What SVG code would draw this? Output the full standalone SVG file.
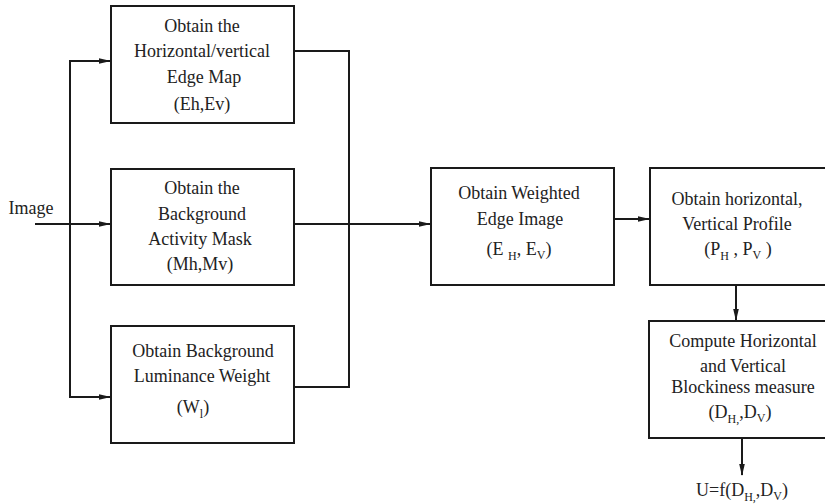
<svg xmlns="http://www.w3.org/2000/svg" width="825" height="504" viewBox="0 0 825 504">
<defs>
<marker id="ah" markerWidth="12" markerHeight="8" refX="11" refY="4" orient="auto" markerUnits="userSpaceOnUse">
<path d="M0,1.2 L12,4 L0,6.8 Z" fill="#1a1a1a"/>
</marker>
</defs>
<rect width="825" height="504" fill="#fff"/>
<g id="connectors" fill="none" stroke="#1a1a1a" stroke-width="2">
<line x1="35" y1="224" x2="110" y2="224" marker-end="url(#ah)"/>
<polyline points="70,224 70,61 110,61" marker-end="url(#ah)"/>
<polyline points="70,224 70,397 110,397" marker-end="url(#ah)"/>
<polyline points="294,51 349,51 349,387 294,387"/>
<line x1="294" y1="224" x2="430" y2="224" marker-end="url(#ah)"/>
<line x1="614" y1="219" x2="649" y2="219" marker-end="url(#ah)"/>
<line x1="736" y1="285" x2="736" y2="320" marker-end="url(#ah)"/>
<line x1="742" y1="438" x2="742" y2="475" marker-end="url(#ah)"/>
</g>
<g font-family="Liberation Serif" font-size="18" fill="#222" text-anchor="middle">
<g id="input"><text x="31" y="214">Image</text></g>
<g id="edgemap">
<rect x="111" y="6" width="183" height="117" fill="#fff" stroke="#1a1a1a" stroke-width="2"/>
<text x="202" y="32">Obtain the</text>
<text x="202" y="57">Horizontal/vertical</text>
<text x="204" y="83">Edge Map</text>
<text x="202" y="110">(Eh,Ev)</text>
</g>
<g id="activity">
<rect x="111" y="169" width="183" height="116" fill="#fff" stroke="#1a1a1a" stroke-width="2"/>
<text x="202" y="194">Obtain the</text>
<text x="202" y="220">Background</text>
<text x="200" y="245">Activity Mask</text>
<text x="200" y="270">(Mh,Mv)</text>
</g>
<g id="luminance">
<rect x="111" y="326" width="183" height="117" fill="#fff" stroke="#1a1a1a" stroke-width="2"/>
<text x="203" y="357">Obtain Background</text>
<text x="202" y="382">Luminance Weight</text>
<text x="193" y="413">(W<tspan font-size="12" dy="5">l</tspan><tspan dy="-5">)</tspan></text>
</g>
<g id="weighted">
<rect x="431" y="168" width="183" height="117" fill="#fff" stroke="#1a1a1a" stroke-width="2"/>
<text x="519" y="199">Obtain Weighted</text>
<text x="520" y="225">Edge Image</text>
<text x="519" y="255">(E <tspan font-size="12" dy="5">H</tspan><tspan dy="-5">, E</tspan><tspan font-size="12" dy="4">V</tspan><tspan dy="-4">)</tspan></text>
</g>
<g id="profile">
<rect x="650" y="168" width="190" height="117" fill="#fff" stroke="#1a1a1a" stroke-width="2"/>
<text x="737" y="205">Obtain horizontal,</text>
<text x="737" y="230">Vertical Profile</text>
<text x="738" y="255">(P<tspan font-size="12" dy="5">H</tspan><tspan dy="-5"> , P</tspan><tspan font-size="12" dy="4">V</tspan><tspan dy="-4">  )</tspan></text>
</g>
<g id="blockiness">
<rect x="649" y="321" width="190" height="117" fill="#fff" stroke="#1a1a1a" stroke-width="2"/>
<text x="743" y="347">Compute Horizontal</text>
<text x="743" y="372">and Vertical</text>
<text x="743" y="393">Blockiness measure</text>
<text x="740" y="418">(D<tspan font-size="12" dy="5">H,</tspan><tspan dy="-5">,D</tspan><tspan font-size="12" dy="4">V</tspan><tspan dy="-4">)</tspan></text>
</g>
<g id="output">
<text x="742" y="496">U=f(D<tspan font-size="12" dy="5">H,</tspan><tspan dy="-5">,D</tspan><tspan font-size="12" dy="4">V</tspan><tspan dy="-4">)</tspan></text>
</g>
</g>
</svg>
